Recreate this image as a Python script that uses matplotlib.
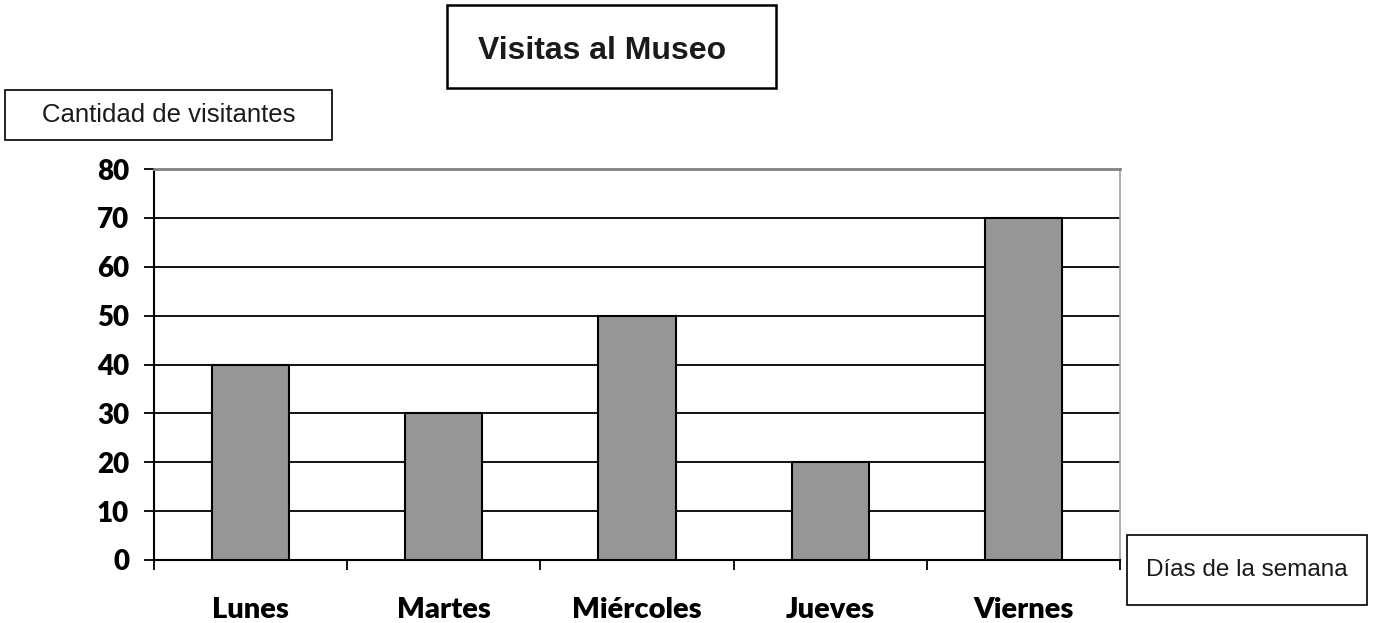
import matplotlib
matplotlib.use("Agg")
import matplotlib.pyplot as plt
from matplotlib.patches import Rectangle
import numpy as np

# data
dias = ["Lunes", "Martes", "Miércoles", "Jueves", "Viernes"]
visitantes = [40, 30, 50, 20, 70]
yticks = [0, 10, 20, 30, 40, 50, 60, 70, 80]

W, H = 1374, 623
fig = plt.figure(figsize=(W / 100, H / 100), dpi=100)
ax = fig.add_axes([154 / W, (H - 560) / H, (1120 - 154) / W, (560 - 169) / H])

x = np.arange(len(dias))
ax.bar(x, visitantes, width=0.40, color="#969696", edgecolor="black",
       linewidth=1.5, zorder=3)

ax.set_xlim(-0.5, len(dias) - 0.5)
ax.set_ylim(0, 80)
ax.set_yticks(yticks)
ax.set_yticklabels([str(v) for v in yticks])

# gridlines
for v in yticks[1:-1]:
    ax.axhline(v, color="black", linewidth=1.3, zorder=1)

# category boundary ticks, labels on minor ticks at centres
ax.set_xticks(np.arange(-0.5, len(dias) + 0.5, 1.0))
ax.set_xticklabels([])
ax.set_xticks(x, minor=True)
ax.set_xticklabels(dias, minor=True)
ax.tick_params(axis="x", which="major", length=7, width=1.3, color="black")
ax.tick_params(axis="x", which="minor", length=0, pad=27)
ax.tick_params(axis="y", length=7, width=1.3, pad=11)

for t in ax.get_yticklabels():
    t.set_fontfamily(["Lato", "DejaVu Sans"])
    t.set_fontweight("heavy")
    t.set_fontsize(20)
for t in ax.get_xticklabels(minor=True):
    t.set_fontfamily(["Lato", "DejaVu Sans"])
    t.set_fontweight("heavy")
    t.set_fontsize(21)

ax.spines["left"].set_linewidth(1.5)
ax.spines["bottom"].set_linewidth(1.5)
ax.spines["top"].set_color("#808080")
ax.spines["top"].set_linewidth(2)
ax.spines["right"].set_color("#a0a0a0")
ax.spines["right"].set_linewidth(1.2)


def caja(x0, y0, x1, y1, texto, size, weight="normal", lw=1.2, tx=None, ty=None):
    fig.add_artist(Rectangle((x0 / W, 1 - y1 / H), (x1 - x0) / W, (y1 - y0) / H,
                             transform=fig.transFigure, fill=False,
                             edgecolor="black", linewidth=lw))
    if tx is None:
        tx = (x0 + x1) / 2
    if ty is None:
        ty = (y0 + y1) / 2
    fig.text(tx / W, 1 - ty / H, texto,
             ha="center", va="center", fontsize=size, fontweight=weight,
             family=["Liberation Sans", "DejaVu Sans"], color="#1a1a1a")


caja(447, 5, 776, 88, "Visitas al Museo", 23, "bold", lw=1.8, tx=602, ty=51)
caja(5, 90, 332, 140, "Cantidad de visitantes", 18.5)
caja(1127, 535, 1367, 605, "Días de la semana", 17.5)

fig.savefig("out.png", dpi=100)
